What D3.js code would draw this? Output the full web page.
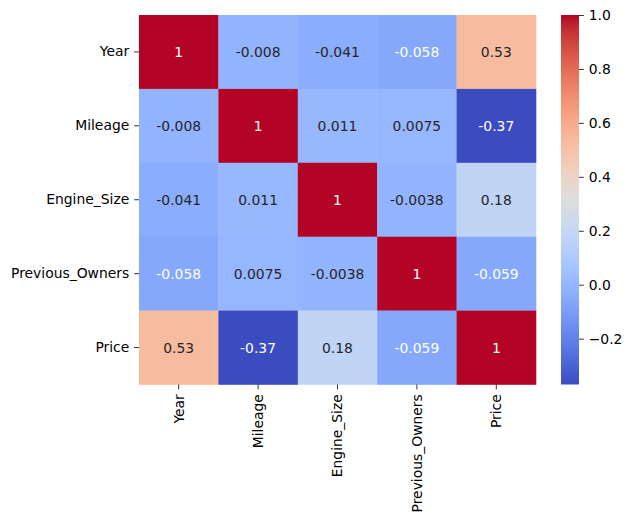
<!DOCTYPE html>
<html>
<head>
<meta charset="utf-8">
<script src="https://cdn.jsdelivr.net/npm/d3@7"></script>
<style>
html,body{margin:0;padding:0;background:#fff;}
svg{display:block;font-family:"DejaVu Sans",sans-serif;}
</style>
</head>
<body>
<svg id="chart" width="632" height="524"></svg>
<script>
const labels = ["Year", "Mileage", "Engine_Size", "Previous_Owners", "Price"];
const rowYear = [1, -0.008, -0.041, -0.058, 0.53];
const rowMileage = [-0.008, 1, 0.011, 0.0075, -0.37];
const rowEngine = [-0.041, 0.011, 1, -0.0038, 0.18];
const rowOwners = [-0.058, 0.0075, -0.0038, 1, -0.059];
const rowPrice = [0.53, -0.37, 0.18, -0.059, 1];
const matrix = [rowYear, rowMileage, rowEngine, rowOwners, rowPrice];
const cbTicks = [-0.2, 0.0, 0.2, 0.4, 0.6, 0.8, 1.0];

// matplotlib coolwarm (Moreland) control points
const cw = [[59,76,192],[68,90,204],[77,104,215],[87,117,225],[98,130,234],[108,142,241],[119,154,247],[130,165,251],[141,176,254],[152,185,255],[163,194,255],[174,201,253],[184,208,249],[194,213,244],[204,217,238],[213,219,230],[221,221,221],[229,216,209],[236,211,197],[241,204,185],[245,196,173],[247,187,160],[247,177,148],[247,166,135],[244,154,123],[241,141,111],[236,127,99],[229,112,88],[222,96,77],[213,80,66],[203,62,56],[192,40,47],[180,4,38]];
function coolwarm(t){
  t = Math.max(0, Math.min(1, t));
  const p = t*(cw.length-1);
  const i = Math.min(Math.floor(p), cw.length-2);
  const f = p - i;
  const a = cw[i], b = cw[i+1];
  return [0,1,2].map(k => a[k] + (b[k]-a[k])*f);
}
function rgbStr(c){ return `rgb(${Math.round(c[0])},${Math.round(c[1])},${Math.round(c[2])})`; }
function lum(c){
  const v = c.map(x => { x/=255; return x <= 0.03928 ? x/12.92 : Math.pow((x+0.055)/1.055, 2.4); });
  return 0.2126*v[0] + 0.7152*v[1] + 0.0722*v[2];
}

const all = matrix.flat();
const vmin = d3.min(all), vmax = d3.max(all);
const norm = d3.scaleLinear().domain([vmin, vmax]).range([0, 1]);

const svg = d3.select("#chart");
const L = 139, R = 536, T = 15, B = 384.5;
const x = d3.scaleBand().domain(labels).range([L, R]);
const y = d3.scaleBand().domain(labels).range([T, B]);
const fs = 13.9;

const cells = [];
matrix.forEach((row, i) => row.forEach((v, j) => cells.push({r: labels[i], c: labels[j], v})));

svg.append("g").selectAll("rect").data(cells).join("rect")
  .attr("x", d => x(d.c)).attr("y", d => y(d.r))
  .attr("width", x.bandwidth()+0.3).attr("height", y.bandwidth()+0.3)
  .attr("fill", d => rgbStr(coolwarm(norm(d.v))));

svg.append("g").selectAll("text").data(cells).join("text")
  .attr("x", d => x(d.c) + x.bandwidth()/2)
  .attr("y", d => y(d.r) + y.bandwidth()/2)
  .attr("text-anchor", "middle").attr("dominant-baseline", "central")
  .attr("font-size", fs)
  .attr("fill", d => lum(coolwarm(norm(d.v))) > 0.408 ? "#262626" : "#ffffff")
  .text(d => d3.format(".2~g")(d.v).replace("\u2212", "-"));

// y axis
const yAxis = svg.append("g").attr("transform", `translate(${L},0)`)
  .call(d3.axisLeft(y).tickSize(4.86).tickPadding(4.86));
yAxis.select(".domain").remove();
yAxis.selectAll("text").attr("font-size", fs).attr("fill", "#000").attr("font-family", "DejaVu Sans");
yAxis.selectAll("line").attr("stroke", "#000").attr("stroke-width", 0.8);

// x axis
const xAxis = svg.append("g").attr("transform", `translate(0,${B})`)
  .call(d3.axisBottom(x).tickSize(4.86).tickPadding(4.86));
xAxis.select(".domain").remove();
xAxis.selectAll("line").attr("stroke", "#000").attr("stroke-width", 0.8);
xAxis.selectAll("text").attr("font-size", fs).attr("fill", "#000").attr("font-family", "DejaVu Sans")
  .attr("transform", "rotate(-90)")
  .attr("text-anchor", "end")
  .attr("x", -9.7).attr("y", 0).attr("dy", "0.35em");

// colorbar
const cbL = 561, cbW = 18;
const cbScale = d3.scaleLinear().domain([vmin, vmax]).range([B, T]);
const defs = svg.append("defs");
const grad = defs.append("linearGradient").attr("id", "cbgrad")
  .attr("x1", 0).attr("y1", 1).attr("x2", 0).attr("y2", 0);
d3.range(0, 1.0001, 1/64).forEach(t => {
  grad.append("stop").attr("offset", t).attr("stop-color", rgbStr(coolwarm(t)));
});
svg.append("rect").attr("x", cbL).attr("y", T).attr("width", cbW).attr("height", B - T)
  .attr("fill", "url(#cbgrad)");
const cbAxis = svg.append("g").attr("transform", `translate(${cbL + cbW},0)`)
  .call(d3.axisRight(cbScale).tickValues(cbTicks).tickSize(4.86).tickPadding(4.86)
    .tickFormat(d => d3.format(".1f")(d).replace("-", "\u2212")));
cbAxis.select(".domain").remove();
cbAxis.selectAll("line").attr("stroke", "#000").attr("stroke-width", 0.8);
cbAxis.selectAll("text").attr("font-size", fs).attr("fill", "#000").attr("font-family", "DejaVu Sans");
</script>
</body>
</html>
